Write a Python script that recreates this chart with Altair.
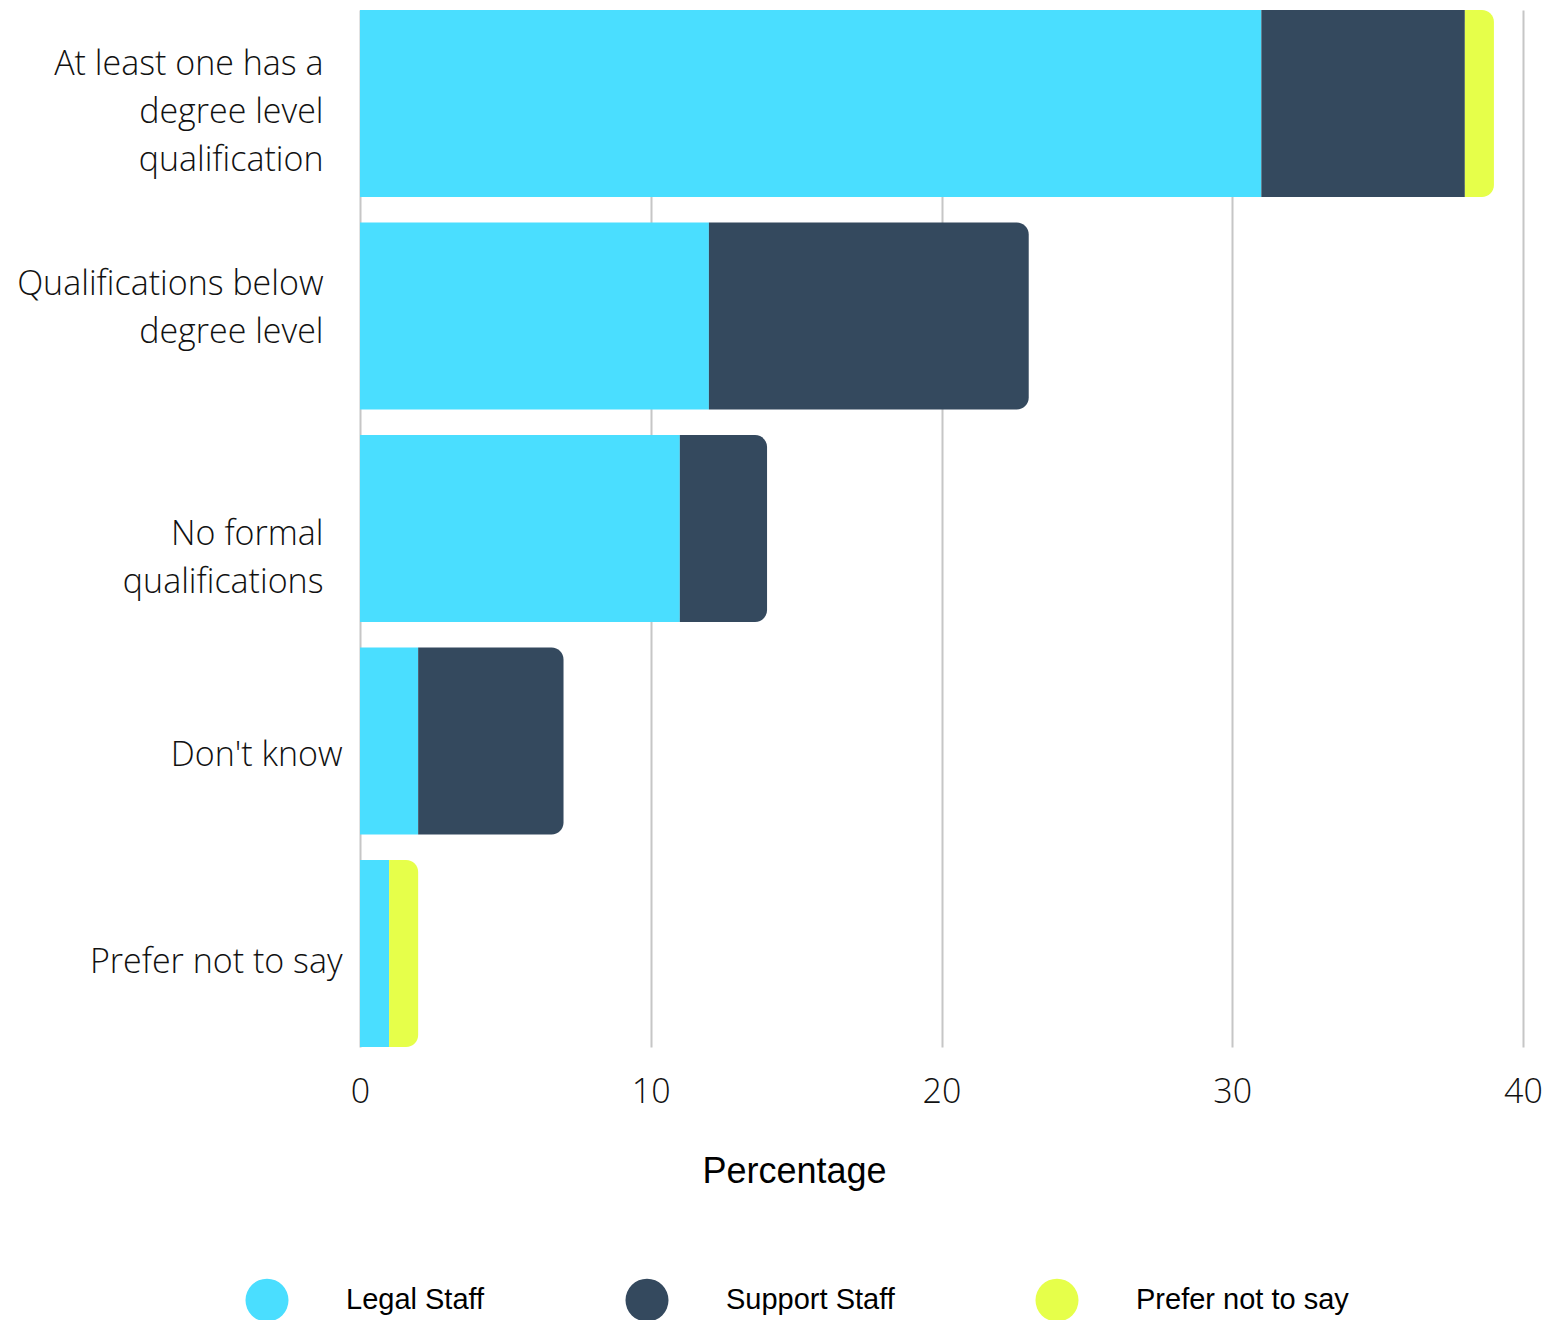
import json
import altair as alt
import pandas as pd

# ---------------- data ----------------
categories = [
    "At least one has a degree level qualification",
    "Qualifications below degree level",
    "No formal qualifications",
    "Don't know",
    "Prefer not to say",
]
label_lines = [
    ["At least one has a", "degree level", "qualification"],
    ["Qualifications below", "degree level"],
    ["No formal", "qualifications"],
    ["Don't know"],
    ["Prefer not to say"],
]
series = ["Legal Staff", "Support Staff", "Prefer not to say"]
legal = [31, 12, 11, 2, 1]
support = [7, 11, 3, 5, 0]
prefer = [1, 0, 0, 0, 1]
x_ticks = [0, 10, 20, 30, 40]

# ---------------- style ----------------
colors = ["#4ADEFF", "#34495E", "#E6FF4A"]
label_shift = [-39, -31, 6, 15, 9]

rows = []
for i, c in enumerate(categories):
    for j, vals in enumerate([legal, support, prefer]):
        rows.append({"category": c, "series": series[j], "order": j, "value": vals[i]})
df = pd.DataFrame(rows)

# label expression (multi-line labels)
expr = "datum.value"
for c, lines in reversed(list(zip(categories, label_lines))):
    expr = f"datum.value == {json.dumps(c)} ? {json.dumps(lines)} : ({expr})"

offset_cond = {
    "condition": [
        {"test": f"datum.value == {json.dumps(c)}", "value": s}
        for c, s in zip(categories, label_shift)
    ],
    "value": 0,
}
pad_cond = {
    "condition": [
        {"test": f"datum.value == {json.dumps(c)}", "value": 18 if len(l) == 1 else 37}
        for c, l in zip(categories, label_lines)
    ],
    "value": 18,
}

y_enc = alt.Y(
    "category:N",
    sort=categories,
    scale=alt.Scale(paddingInner=0.12, paddingOuter=0),
    axis=alt.Axis(
        title=None,
        labelExpr=expr,
        labelFont="Open Sans",
        labelFontWeight=300,
        labelFontSize=34,
        labelColor="#111111",
        labelLineHeight=48,
        labelAlign="right",
        labelBaseline="middle",
        labelOffset=offset_cond,
        labelPadding=pad_cond,
        labelLimit=0,
        ticks=False,
        tickSize=0,
        domain=False,
        grid=False,
    ),
)
x_enc = alt.X(
    "x0:Q",
    scale=alt.Scale(domain=[0, 40], nice=False, zero=True),
    axis=alt.Axis(
        values=x_ticks,
        title="Percentage",
        titleFont="Liberation Sans",
        titleFontSize=36,
        titleFontWeight="normal",
        titleColor="#000000",
        titleX=434,
        titleY=135,
        titleAlign="center",
        titleBaseline="alphabetic",
        labelFont="Open Sans",
        labelFontWeight=300,
        labelFontSize=34,
        labelColor="#111111",
        labelPadding=28,
        labelBaseline="top",
        labelFlush=False,
        ticks=False,
        tickSize=0,
        domain=False,
        grid=True,
        gridColor="#c6c6c6",
        gridWidth=2,
    ),
)
color_enc = alt.Color(
    "series:N",
    scale=alt.Scale(domain=series, range=colors),
    legend=alt.Legend(
        title=None,
        orient="none",
        direction="horizontal",
        legendX=-115,
        legendY=1268,
        symbolType="circle",
        symbolSize=1850,
        symbolStrokeWidth=0,
        symbolOpacity=1,
        labelFont="Liberation Sans",
        labelFontSize=29,
        labelColor="#000000",
        labelOffset=57,
        columnPadding=140,
        padding=0,
        labelLimit=0,
    ),
)

base = (
    alt.Chart(df)
    .transform_filter("datum.value > 0")
    .transform_stack(
        stack="value",
        as_=["x0", "x1"],
        groupby=["category"],
        sort=[alt.SortField("order", order="ascending")],
    )
    .transform_joinaggregate(maxEnd="max(x1)", groupby=["category"])
)

enc = dict(y=y_enc, x=x_enc, x2="x1:Q", color=color_enc,
           order=alt.Order("order:Q"))

inner = base.mark_bar(opacity=1).encode(**enc).transform_filter("datum.x1 < datum.maxEnd")
ends = (
    base.mark_bar(opacity=1, cornerRadiusTopRight=12, cornerRadiusBottomRight=12)
    .encode(**enc)
    .transform_filter("datum.x1 >= datum.maxEnd")
)

chart = (
    alt.layer(inner, ends)
    .properties(
        width=1163,
        height=1037,
        padding={"left": 8, "top": 2, "right": 0, "bottom": 0},
        background="white",
    )
    .configure_view(stroke=None)
)

chart.save("out.html", embed_options={"renderer": "svg", "actions": False})
